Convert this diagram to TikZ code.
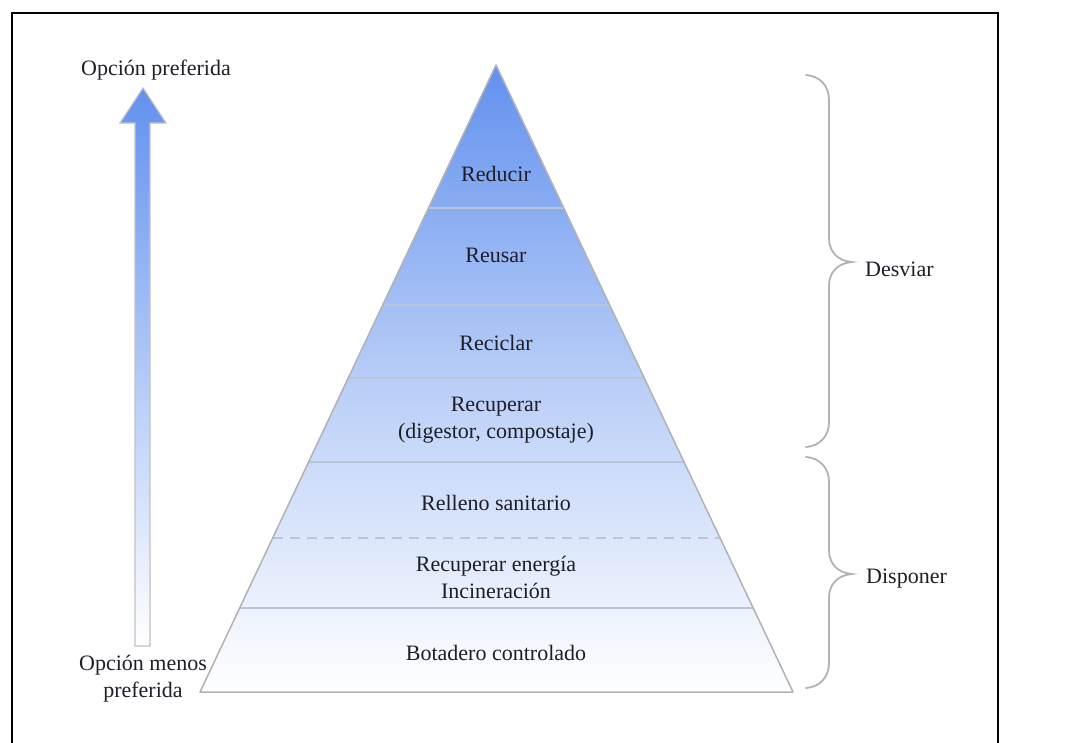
\documentclass[tikz,border=0pt]{standalone}
\usepackage{fontspec}
\setmainfont{Liberation Serif}
\newfontfamily\pyrfont{Liberation Serif}
\usetikzlibrary{calc, positioning}

\definecolor{pyrblue}{RGB}{98,145,238}
\definecolor{edgegray}{RGB}{178,178,182}
\definecolor{layergray}{RGB}{188,197,214}
\definecolor{labelink}{RGB}{30,30,40}

\begin{document}
\begin{tikzpicture}[x=1pt, y=-1pt,
    lbl/.style={font=\pyrfont\fontsize{22}{27}\selectfont, text=labelink, align=center, inner sep=0pt},
    layer/.style={draw=layergray, line width=1.6pt},
    bracket/.style={draw=edgegray, line width=1.8pt, line cap=round}]
    \useasboundingbox (0,0) rectangle (1087,742);
    % outer frame
    \draw[line width=2pt] (12,13) rectangle (998,770);

    % pyramid
    \coordinate (apex) at (496,65);
    \coordinate (bl) at (200,692);
    \coordinate (br) at (793,692);
    \shade[top color=pyrblue, bottom color=white, middle color=pyrblue!45] (apex) -- (br) -- (bl) -- cycle;
    \foreach \yy in {208,305,378,462,608}
        \draw[layer] ($(apex)!{(\yy-65)/627}!(bl)$) -- ($(apex)!{(\yy-65)/627}!(br)$);
    \draw[layer, dashed, dash pattern=on 10pt off 7pt]
        ($(apex)!{(538-65)/627}!(bl)$) -- ($(apex)!{(538-65)/627}!(br)$);
    \draw[edgegray, line width=1.5pt, line join=round] (apex) -- (br) -- (bl) -- cycle;

    \node[lbl] (reducir) at (496,174) {Reducir};
    \node[lbl] (reusar) at (496,255) {Reusar};
    \node[lbl] (reciclar) at (496,343) {Reciclar};
    \node[lbl] (recuperar) at (496,420) {Recuperar\\(digestor, compostaje)};
    \node[lbl] (relleno) at (496,503) {Relleno sanitario};
    \node[lbl] (energia) at (496,577) {Recuperar energía\\Incineración};
    \node[lbl] (botadero) at (496,653) {Botadero controlado};

    % preference arrow
    \coordinate (arrtip) at (143,88);
    \shadedraw[top color=pyrblue, bottom color=white, draw=edgegray!80, line width=1.2pt]
        (arrtip) -- (166,123) -- (150,123) -- (150,646) -- (135,646) -- (135,123) -- (120,123) -- cycle;
    \node[lbl] (pref) at (156,70) {Opción preferida};
    \node[lbl] (nopref) at (143,679) {Opción menos\\preferida};

    % braces
    \coordinate (tipa) at (852,262);
    \coordinate (tipb) at (852,574);
    \draw[bracket] (806,75) .. controls (820,76) and (829,86) .. (829,100) -- (829,238)
        .. controls (829,252) and (838,261) .. (tipa)
        .. controls (838,263) and (829,272) .. (829,286) -- (829,422)
        .. controls (829,436) and (820,446) .. (806,447);
    \draw[bracket] (806,457) .. controls (820,458) and (829,468) .. (829,482) -- (829,550)
        .. controls (829,564) and (838,573) .. (tipb)
        .. controls (838,575) and (829,584) .. (829,598) -- (829,663)
        .. controls (829,677) and (820,687) .. (806,688);
    \node[lbl, anchor=base west] (desviar) at (865,276) {Desviar};
    \node[lbl, anchor=base west] (disponer) at (866,583) {Disponer};
\end{tikzpicture}
\end{document}
